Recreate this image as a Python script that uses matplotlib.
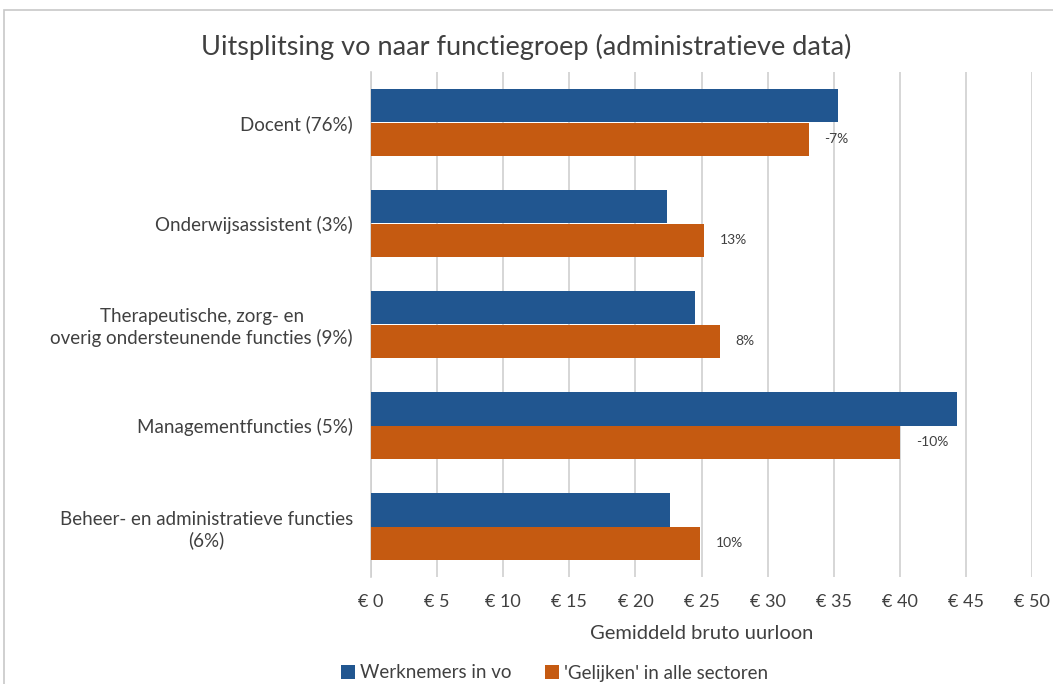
import matplotlib
matplotlib.use("Agg")
import matplotlib.pyplot as plt
from matplotlib.patches import Rectangle
import numpy as np

plt.rcParams['font.family'] = ['Lato', 'DejaVu Sans']

categories = ["Docent (76%)", "Onderwijsassistent (3%)",
              "Therapeutische, zorg- en\noverig ondersteunende functies (9%)",
              "Managementfuncties (5%)",
              "Beheer- en administratieve functies\n(6%)"]
werknemers_vo = [35.3, 22.4, 24.5, 44.3, 22.6]
gelijken = [33.1, 25.2, 26.4, 40.0, 24.9]
diff_labels = ["-7%", "13%", "8%", "-10%", "10%"]
xticks = list(range(0, 55, 5))
xticklabels = [f"€ {v}" for v in xticks]

blue = "#215690"
orange = "#C55A11"
txt = '#404040'

fig = plt.figure(figsize=(10.53, 6.84), dpi=100)
ax = fig.add_axes([371/1053, 1-577/684, (1032-371)/1053, (577-72)/684])

y = np.arange(len(categories))
h = 0.33
ax.barh(y - h/2, werknemers_vo, height=h, color=blue, label="Werknemers in vo", zorder=3)
ax.barh(y + h/2, gelijken, height=h, color=orange, label="'Gelijken' in alle sectoren", zorder=3)

for yi, v, lab in zip(y, gelijken, diff_labels):
    ax.text(v + 1.2, yi + h/2, lab, va='center', ha='left', fontsize=10, color=txt)

ax.set_ylim(len(categories) - 0.5, -0.5)
ax.set_xlim(0, 50)
ax.set_yticks(y)
ax.set_yticklabels(categories, fontsize=13.5, color=txt, ha='right', multialignment='center',
                   linespacing=1.25)
ax.set_xticks(xticks)
ax.set_xticklabels(xticklabels, fontsize=13, color=txt)
ax.tick_params(axis='y', length=0, pad=13)
ax.tick_params(axis='x', length=0, pad=12)
ax.grid(axis='x', color='#d0d0d0', linewidth=1.2, zorder=0)
for s in ['top', 'right', 'bottom']:
    ax.spines[s].set_visible(False)
ax.spines['left'].set_color('#d0d0d0')
ax.spines['left'].set_linewidth(1.2)
ax.set_xlabel("Gemiddeld bruto uurloon", fontsize=14.5, color=txt, labelpad=11)

fig.text(0.5, 1-47/684, "Uitsplitsing vo naar functiegroep (administratieve data)",
         ha='center', va='center', fontsize=19.5, color=txt)

fig.legend(loc='center', bbox_to_anchor=(0.527, 1-673/684), ncol=2, frameon=False,
           fontsize=13.5, handlelength=0.7, handleheight=0.7, handletextpad=0.3,
           columnspacing=1.8, labelcolor=txt)

fig.patches.append(Rectangle((4/1053, -0.1), 1.2, 1-10/684+0.1, transform=fig.transFigure,
                             fill=False, edgecolor='#c8c8c8', linewidth=1.2))

fig.savefig("out.png", dpi=100)
